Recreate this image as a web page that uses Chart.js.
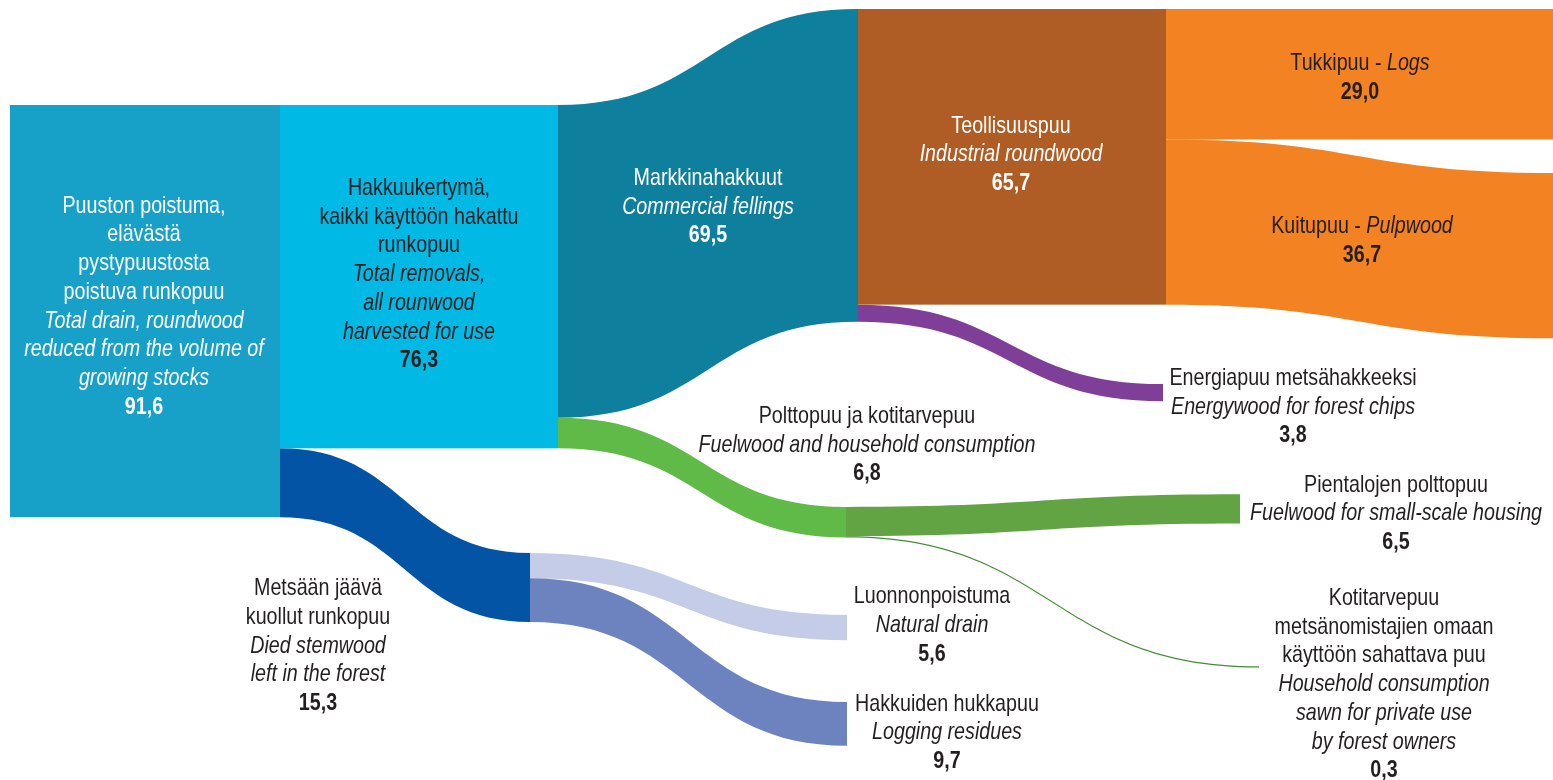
<!DOCTYPE html>
<html>
<head>
<meta charset="utf-8">
<title>Puuston poistuma</title>
<script src="https://cdn.jsdelivr.net/npm/chart.js@4"></script>
<style>
    body { margin: 0; background: #fff; overflow: hidden; }
    canvas { display: block; }
</style>
</head>
<body>
<canvas id="drainChart" width="1553" height="780"></canvas>
<script>
// million m3
const nodeIds = ['drain', 'removals', 'commercial', 'industrial', 'logs', 'pulpwood', 'energywood',
    'fuelwood', 'smallHousing', 'household', 'died', 'natural', 'residues']
const nodeValues = [91.6, 76.3, 69.5, 65.7, 29.0, 36.7, 3.8, 6.8, 6.5, 0.3, 15.3, 5.6, 9.7]

const flowFrom = ['drain', 'drain', 'removals', 'removals', 'commercial', 'commercial', 'industrial', 'industrial',
    'fuelwood', 'fuelwood', 'died', 'died']
const flowTo = ['removals', 'died', 'commercial', 'fuelwood', 'industrial', 'energywood', 'logs', 'pulpwood',
    'smallHousing', 'household', 'natural', 'residues']
const flowValues = [76.3, 15.3, 69.5, 6.8, 65.7, 3.8, 29.0, 36.7, 6.5, 0.3, 5.6, 9.7]

const nodeLabels = [
    ['Puuston poistuma,', 'elävästä', 'pystypuustosta', 'poistuva runkopuu', '_Total drain, roundwood_', '_reduced from the volume of_', '_growing stocks_'],
    ['Hakkuukertymä,', 'kaikki käyttöön hakattu', 'runkopuu', '_Total removals,_', '_all rounwood_', '_harvested for use_'],
    ['Markkinahakkuut', '_Commercial fellings_'],
    ['Teollisuuspuu', '_Industrial roundwood_'],
    ['Tukkipuu - _Logs_'],
    ['Kuitupuu - _Pulpwood_'],
    ['Energiapuu metsähakkeeksi', '_Energywood for forest chips_'],
    ['Polttopuu ja kotitarvepuu', '_Fuelwood and household consumption_'],
    ['Pientalojen polttopuu', '_Fuelwood for small-scale housing_'],
    ['Kotitarvepuu', 'metsänomistajien omaan', 'käyttöön sahattava puu', '_Household consumption_', '_sawn for private use_', '_by forest owners_'],
    ['Metsään jäävä', 'kuollut runkopuu', '_Died stemwood_', '_left in the forest_'],
    ['Luonnonpoistuma', '_Natural drain_'],
    ['Hakkuiden hukkapuu', '_Logging residues_']
]

// layout: x in px units, y in million m3 (top of each node)
const nodeX0 = [10, 280, 858, 858, 1553, 1553, 1163, 846, 1240, 1259, 530, 847, 847]
const nodeX1 = [280, 558, 858, 1166, 1553, 1553, 1163, 846, 1240, 1259, 530, 847, 847]
const nodeTop = [23.33, 23.33, 2.0, 2.0, 2.0, 38.45, 85.35, 112.65, 109.85, 148.05, 122.9, 136.65, 156.0]
const nodeColors = ['#17a0c8', '#00bae5', null, '#b05c25', null, null, null, null, null, null, null, null, null]
const flowColors = [null, '#0354a5', '#0e7f9d', '#5fba47', null, '#7f3f98', '#f38222', '#f38222',
    '#62a344', '#3e8e2f', '#c5cce7', '#6c83bf']

const labelX = [144, 419, 708, 1011, 1360, 1362, 1293, 867, 1396, 1384, 318, 932, 947]
const labelY = [47.27, 43.33, 41.11, 29.49, 15.56, 51.78, 85.56, 94.0, 109.27, 134.44, 132.3, 134.07, 157.93]
const labelColors = ['#fff', '#231f20', '#fff', '#fff', '#231f20', '#231f20', '#231f20', '#231f20',
    '#231f20', '#231f20', '#231f20', '#231f20', '#231f20']
const lineStep = 6.38

function hasFont(name) {
    let c = document.createElement('canvas').getContext('2d')
    c.font = '24px monospace'
    let w1 = c.measureText('abcdefghijklmnop').width
    c.font = '24px "' + name + '", monospace'
    return c.measureText('abcdefghijklmnop').width !== w1
}
const narrow = hasFont('Liberation Sans Narrow')
const fontFamily = narrow ? '"Liberation Sans Narrow"' : '"Liberation Sans", Arial, sans-serif'
const squeeze = narrow ? 1 : 0.82

function fmt(v) {
    return v.toFixed(1).replace('.', ',')
}

const sankeyPlugin = {
    id: 'sankey',
    beforeDatasetsDraw(chart) {
        let ctx = chart.ctx
        let xs = chart.scales.x
        let ys = chart.scales.y
        let outOffset = nodeIds.map(() => 0)
        let inOffset = nodeIds.map(() => 0)

        flowValues.forEach(function(v, i) {
            let s = nodeIds.indexOf(flowFrom[i])
            let t = nodeIds.indexOf(flowTo[i])
            let sTop = nodeTop[s] + outOffset[s]
            let tTop = nodeTop[t] + inOffset[t]
            outOffset[s] += v
            inOffset[t] += v
            if (!flowColors[i]) return
            let x0 = xs.getPixelForValue(nodeX1[s])
            let x1 = xs.getPixelForValue(nodeX0[t])
            let xm = (x0 + x1) / 2
            let y0t = ys.getPixelForValue(sTop)
            let y0b = ys.getPixelForValue(sTop + v)
            let y1t = ys.getPixelForValue(tTop)
            let y1b = ys.getPixelForValue(tTop + v)
            ctx.save()
            ctx.fillStyle = flowColors[i]
            ctx.beginPath()
            ctx.moveTo(x0, y0t)
            ctx.bezierCurveTo(xm, y0t, xm, y1t, x1, y1t)
            ctx.lineTo(x1, y1b)
            ctx.bezierCurveTo(xm, y1b, xm, y0b, x0, y0b)
            ctx.closePath()
            ctx.fill()
            ctx.restore()
        })

        nodeValues.forEach(function(v, i) {
            if (!nodeColors[i]) return
            let x0 = xs.getPixelForValue(nodeX0[i])
            let x1 = xs.getPixelForValue(nodeX1[i])
            let y0 = ys.getPixelForValue(nodeTop[i])
            let y1 = ys.getPixelForValue(nodeTop[i] + v)
            ctx.fillStyle = nodeColors[i]
            ctx.fillRect(x0, y0, x1 - x0, y1 - y0)
        })
    },
    afterDatasetsDraw(chart) {
        let ctx = chart.ctx
        let xs = chart.scales.x
        let ys = chart.scales.y
        nodeLabels.forEach(function(lines, i) {
            let all = lines.concat(['*' + fmt(nodeValues[i])])
            let cx = xs.getPixelForValue(labelX[i])
            all.forEach(function(line, k) {
                let y = ys.getPixelForValue(labelY[i] + k * lineStep)
                let segs = []
                if (line[0] === '*') {
                    segs.push({text: line.slice(1), font: 'bold 24px ' + fontFamily})
                } else {
                    line.split('_').forEach(function(part, j) {
                        if (part) segs.push({text: part, font: (j % 2 ? 'italic ' : '') + '24px ' + fontFamily})
                    })
                }
                let total = 0
                segs.forEach(function(sg) {
                    ctx.font = sg.font
                    sg.w = ctx.measureText(sg.text).width
                    total += sg.w
                })
                ctx.save()
                ctx.translate(cx - total * squeeze / 2, y)
                ctx.scale(squeeze, 1)
                ctx.fillStyle = labelColors[i]
                ctx.textAlign = 'left'
                ctx.textBaseline = 'alphabetic'
                let x = 0
                segs.forEach(function(sg) {
                    ctx.font = sg.font
                    ctx.fillText(sg.text, x, 0)
                    x += sg.w
                })
                ctx.restore()
            })
        })
    }
}

new Chart(document.getElementById('drainChart'), {
    type: 'scatter',
    data: {datasets: [{data: [], pointRadius: 0}]},
    options: {
        responsive: false,
        animation: false,
        layout: {padding: 0},
        plugins: {legend: {display: false}, tooltip: {enabled: false}},
        scales: {
            x: {type: 'linear', min: 0, max: 1553, display: false},
            y: {type: 'linear', min: 0, max: 780 / 4.5, reverse: true, display: false}
        }
    },
    plugins: [sankeyPlugin]
})
</script>
</body>
</html>
